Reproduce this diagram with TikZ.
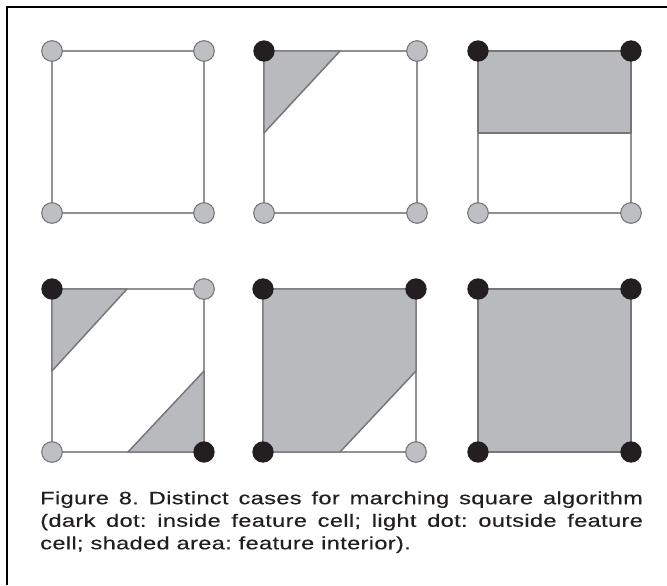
\documentclass[tikz,border=0pt]{standalone}
\usepackage{fontspec}
\usepackage{xcolor}
\newfontfamily\capfont[FakeStretch=1.32,LetterSpace=2,FakeBold=0.4]{Liberation Sans}
\definecolor{edgegray}{RGB}{146,146,149}
\definecolor{lightdot}{RGB}{190,191,195}
\definecolor{dotrim}{RGB}{118,118,121}
\definecolor{darkdot}{RGB}{35,31,32}
\definecolor{shade}{RGB}{185,186,190}
\definecolor{contour}{RGB}{118,118,121}
\tikzstyle{cell}     = [line width=1.5pt, draw=edgegray]
\tikzstyle{interior} = [fill=shade, draw=contour, line width=1.1pt, line join=round]
\tikzstyle{outdot}   = [circle, draw=dotrim, fill=lightdot, line width=0.8pt, minimum size=15.5pt, inner sep=0pt]
\tikzstyle{indot}    = [circle, fill=darkdot, minimum size=16pt, inner sep=0pt]
\tikzstyle{frame}    = [line width=1.5pt, black]
\tikzstyle{caption}  = [inner sep=0pt, text width=452pt, align=justify, text=darkdot, font=\capfont\fontsize{13.4}{16.9}\selectfont\frenchspacing]

\begin{document}
\begin{tikzpicture}[x=0.75pt,y=-0.75pt]
\useasboundingbox (0,0) rectangle (667,585);

% outer frame
\coordinate (fTL) at (7,7);
\coordinate (fR)  at (667,7);
\coordinate (fB)  at (7,585);
\draw[frame] (fR) -- (fTL) -- (fB);

% corners
\coordinate (A1) at (52,51);  \coordinate (A2) at (204,51);
\coordinate (A3) at (52,213); \coordinate (A4) at (204,213);

\coordinate (B1) at (264,51);  \coordinate (B2) at (417,51);
\coordinate (B3) at (264,213); \coordinate (B4) at (417,213);

\coordinate (C1) at (478,51);  \coordinate (C2) at (631,51);
\coordinate (C3) at (478,213); \coordinate (C4) at (631,213);

\coordinate (D1) at (52,289);  \coordinate (D2) at (204,289);
\coordinate (D3) at (52,452);  \coordinate (D4) at (204,452);

\coordinate (E1) at (263,289); \coordinate (E2) at (416,289);
\coordinate (E3) at (263,452); \coordinate (E4) at (416,452);

\coordinate (F1) at (478,289); \coordinate (F2) at (631,289);
\coordinate (F3) at (478,452); \coordinate (F4) at (631,452);

% crossing points
\coordinate (Btop)  at (340,51);
\coordinate (Bleft) at (264,133);
\coordinate (Cleft) at (478,133);
\coordinate (Cright) at (631,133);
\coordinate (Dtop)  at (127,289);
\coordinate (Dleft) at (52,371);
\coordinate (Dright) at (204,371);
\coordinate (Dbot)  at (128,452);
\coordinate (Eright) at (416,371);
\coordinate (Ebot)  at (340,452);

% cell edges
\draw[cell] (A1) -- (A2) -- (A4) -- (A3) -- cycle;
\draw[cell] (B1) -- (B2) -- (B4) -- (B3) -- cycle;
\draw[cell] (C1) -- (C2) -- (C4) -- (C3) -- cycle;
\draw[cell] (D1) -- (D2) -- (D4) -- (D3) -- cycle;
\draw[cell] (E1) -- (E2) -- (E4) -- (E3) -- cycle;
\draw[cell] (F1) -- (F2) -- (F4) -- (F3) -- cycle;

% feature interior
\draw[interior] (B1) -- (Btop) -- (Bleft) -- cycle;
\draw[interior] (C1) -- (C2) -- (Cright) -- (Cleft) -- cycle;
\draw[interior] (D1) -- (Dtop) -- (Dleft) -- cycle;
\draw[interior] (D4) -- (Dright) -- (Dbot) -- cycle;
\draw[interior] (E1) -- (E2) -- (Eright) -- (Ebot) -- (E3) -- cycle;
\draw[interior] (F1) -- (F2) -- (F4) -- (F3) -- cycle;

% corner dots
\node[outdot] (a1) at (A1) {}; \node[outdot] (a2) at (A2) {};
\node[outdot] (a3) at (A3) {}; \node[outdot] (a4) at (A4) {};

\node[indot]  (b1) at (B1) {}; \node[outdot] (b2) at (B2) {};
\node[outdot] (b3) at (B3) {}; \node[outdot] (b4) at (B4) {};

\node[indot]  (c1) at (C1) {}; \node[indot]  (c2) at (C2) {};
\node[outdot] (c3) at (C3) {}; \node[outdot] (c4) at (C4) {};

\node[indot]  (d1) at (D1) {}; \node[outdot] (d2) at (D2) {};
\node[outdot] (d3) at (D3) {}; \node[indot]  (d4) at (D4) {};

\node[indot]  (e1) at (E1) {}; \node[indot]  (e2) at (E2) {};
\node[indot]  (e3) at (E3) {}; \node[outdot] (e4) at (E4) {};

\node[indot]  (f1) at (F1) {}; \node[indot]  (f2) at (F2) {};
\node[indot]  (f3) at (F3) {}; \node[indot]  (f4) at (F4) {};

% caption
\node[caption, anchor=north west] (cap) at (40,491) {\noindent Figure 8. Distinct cases for marching square algorithm\linebreak (dark dot: inside feature cell; light dot: outside feature\linebreak cell; shaded area: feature interior).};

\end{tikzpicture}
\end{document}
